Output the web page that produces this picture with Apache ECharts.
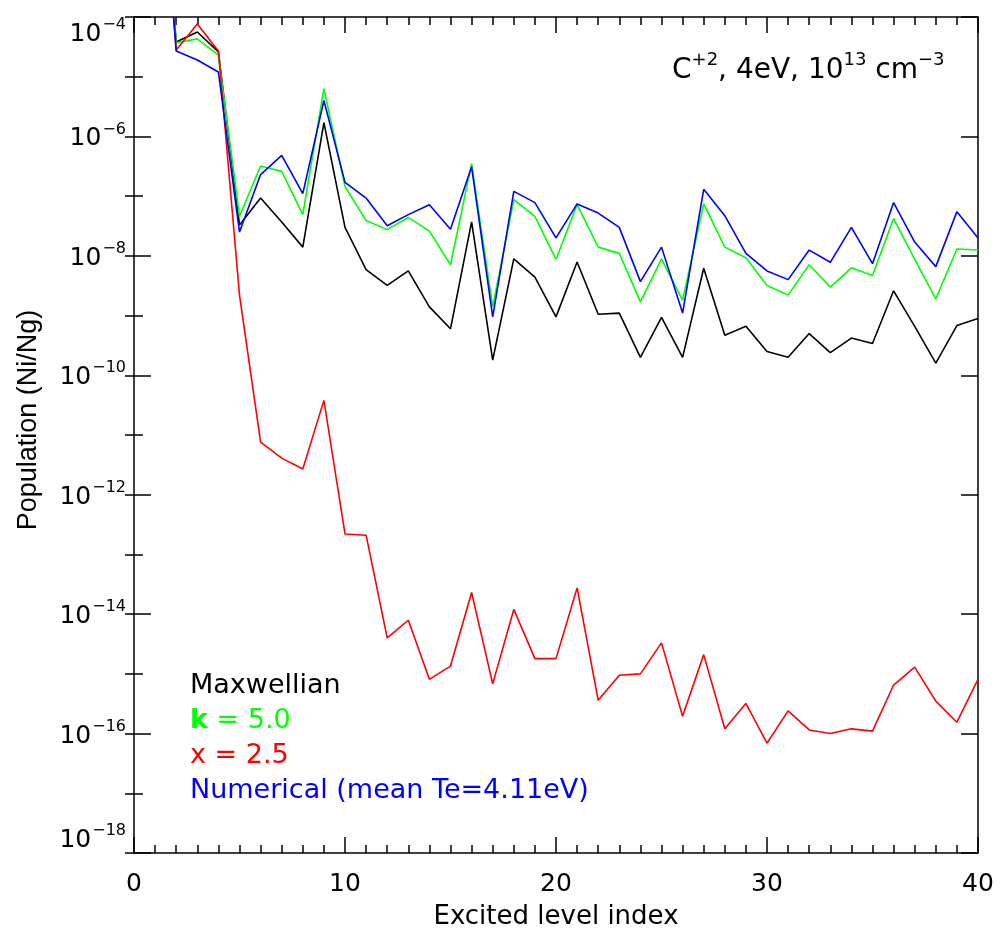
<!DOCTYPE html>
<html>
<head>
<meta charset="utf-8">
<script src="https://cdn.jsdelivr.net/npm/echarts@6/dist/echarts.min.js"></script>
<style>html,body{margin:0;padding:0;background:#fff}#c{width:1001px;height:935px}</style>
</head>
<body>
<div id="c"></div>
<script>
const levels = [1,2,3,4,5,6,7,8,9,10,11,12,13,14,15,16,17,18,19,20,21,22,23,24,25,26,27,28,29,30,31,32,33,34,35,36,37,38,39,40];
const maxwellian = [1,3.8e-5,5.6e-5,2.6e-5,3.3e-8,9.3e-8,3.7e-8,1.4e-8,1.7e-6,3.0e-8,5.9e-9,3.2e-9,5.6e-9,1.4e-9,6.0e-10,3.7e-8,1.8e-10,8.9e-9,4.4e-9,9.5e-10,7.9e-9,1.05e-9,1.1e-9,2.0e-10,9.3e-10,2.0e-10,6.2e-9,4.7e-10,6.6e-10,2.5e-10,2.0e-10,5.0e-10,2.4e-10,4.2e-10,3.4e-10,2.6e-9,6.6e-10,1.6e-10,6.8e-10,8.9e-10];
const kappa50 = [1,3.7e-5,4.3e-5,2.3e-5,4.6e-8,3.2e-7,2.6e-7,4.9e-8,6.3e-6,1.45e-7,3.9e-8,2.75e-8,4.4e-8,2.6e-8,7.1e-9,3.5e-7,1.4e-9,8.7e-8,4.6e-8,8.7e-9,7.2e-8,1.4e-8,1.1e-8,1.7e-9,8.9e-9,1.8e-9,7.4e-8,1.4e-8,9.3e-9,3.2e-9,2.2e-9,7.1e-9,3.0e-9,6.3e-9,4.7e-9,4.2e-8,8.7e-9,1.9e-9,1.3e-8,1.25e-8];
const x25 = [1,2.8e-5,7.6e-5,2.7e-5,2.2e-9,7.6e-12,4.1e-12,2.7e-12,3.8e-11,2.2e-13,2.1e-13,4.0e-15,7.9e-15,8.1e-16,1.35e-15,2.3e-14,6.8e-16,1.2e-14,1.8e-15,1.8e-15,2.75e-14,3.6e-16,9.5e-16,1.0e-15,3.3e-15,1.95e-16,2.1e-15,1.2e-16,3.2e-16,6.9e-17,2.4e-16,1.15e-16,1.0e-16,1.2e-16,1.1e-16,6.5e-16,1.3e-15,3.5e-16,1.55e-16,8.1e-16];
const numerical = [1,2.7e-5,1.9e-5,1.2e-5,2.5e-8,2.3e-7,4.8e-7,1.1e-7,4.0e-6,1.7e-7,9.3e-8,3.2e-8,4.9e-8,7.2e-8,2.8e-8,3.1e-7,9.5e-10,1.2e-7,7.8e-8,2.0e-8,7.4e-8,5.2e-8,3.0e-8,3.7e-9,1.4e-8,1.1e-9,1.3e-7,4.7e-8,1.1e-8,5.6e-9,4.0e-9,1.25e-8,7.8e-9,3.0e-8,7.4e-9,7.8e-8,1.7e-8,6.6e-9,5.5e-8,2.0e-8];
const seriesNames = ['Maxwellian','k = 5.0','x = 2.5','Numerical (mean Te=4.11eV)'];

const FONT = '"DejaVu Sans", sans-serif';
const FONT2 = '"Liberation Sans", Arial, sans-serif';
const chart = echarts.init(document.getElementById('c'), null, {renderer:'canvas'});
const pairs = arr => levels.map((l,i)=>[l, arr[i]]);
const ylabFmt = v => {
  const e = Math.round(Math.log10(v));
  if (e % 2 !== 0) return '';
  return '{b|10}{s|\u2212' + Math.abs(e) + '}';
};
const richY = {
  b:{fontSize:25, fontFamily:FONT, color:'#000', verticalAlign:'bottom', lineHeight:30},
  s:{fontSize:16, fontFamily:FONT, color:'#000', verticalAlign:'top', lineHeight:30, padding:[0,0,0,1]}
};
const axisLine = {show:true, onZero:false, lineStyle:{color:'#000', width:1.5}};
function yAx(pos, major, labels){
  return {
    type:'log', logBase:10, min:1e-18, max:1e-4, interval: major?2:1, position:pos,
    axisLine: major?axisLine:{show:false},
    axisTick:{show:true, inside:true, length: major?17:9, lineStyle:{color:'#000', width:1.5}},
    axisLabel:{show:labels, formatter:ylabFmt, rich:richY, margin:8, showMinLabel:true, showMaxLabel:true,
      verticalAlignMaxLabel:'top', verticalAlignMinLabel:'bottom'},
    splitLine:{show:false},
    name: labels?'Population (Ni/Ng)':'', nameLocation:'middle', nameGap:92,
    nameTextStyle:{fontSize:27, fontFamily:FONT2, color:'#000', padding:[0,0,0,30]}
  };
}
function xAx(pos, labels){
  return {
    type:'value', min:0, max:40, interval:10, position:pos,
    axisLine: axisLine,
    axisTick:{show:true, inside:true, length:16, lineStyle:{color:'#000', width:1.5}},
    minorTick:{show:true, splitNumber:10, length:8, lineStyle:{color:'#000', width:1.5}},
    axisLabel:{show:labels, fontSize:25, fontFamily:FONT, color:'#000', margin:19},
    splitLine:{show:false}, minorSplitLine:{show:false},
    name: labels?'Excited level index':'', nameLocation:'middle', nameGap:51,
    nameTextStyle:{fontSize:26, fontFamily:FONT, color:'#000'}
  };
}
const colors = ['#000000','#00ff00','#ff0000','#0000ff'];
const datas = [maxwellian,kappa50,x25,numerical];
chart.setOption({
  animation:false,
  backgroundColor:'#fff',
  grid:{left:134, right:23, top:17, bottom:80, containLabel:false},
  xAxis:[xAx('bottom',true), xAx('top',false)],
  yAxis:[yAx('left',true,true), yAx('left',false,false), yAx('right',true,false), yAx('right',false,false)],
  series: datas.map((d,i)=>({
    name:seriesNames[i], type:'line', xAxisIndex:0, yAxisIndex:0,
    data:pairs(d), showSymbol:false, symbol:'none', clip:true,
    lineStyle:{color:colors[i], width:1.6}, itemStyle:{color:colors[i]}
  })),
  graphic:[
    {type:'text', left:672, top:51, style:{
      text:'{n|C}{s|+2}{n|, 4eV, 10}{s|13}{n| cm}{s|\u22123}',
      rich:{n:{fontSize:28, fontFamily:FONT, fill:'#000', verticalAlign:'bottom', lineHeight:34},
            s:{fontSize:18, fontFamily:FONT, fill:'#000', verticalAlign:'top', lineHeight:34}}
    }},
    {type:'text', left:190, top:672, style:{text:'Maxwellian', fontSize:27, fontFamily:FONT, fill:'#000'}},
    {type:'text', left:190, top:707, style:{text:'{bk|k}{n| = 5.0}',
      rich:{bk:{fontSize:27, fontWeight:'bold', fontFamily:FONT, fill:'#00ff00'}, n:{fontSize:27, fontFamily:FONT, fill:'#00ff00'}}}},
    {type:'text', left:190, top:742, style:{text:'x = 2.5', fontSize:27, fontFamily:FONT, fill:'#ff0000'}},
    {type:'text', left:190, top:777, style:{text:'Numerical (mean Te=4.11eV)', fontSize:27, fontFamily:FONT, fill:'#0000ff'}}
  ]
});
</script>
</body>
</html>
